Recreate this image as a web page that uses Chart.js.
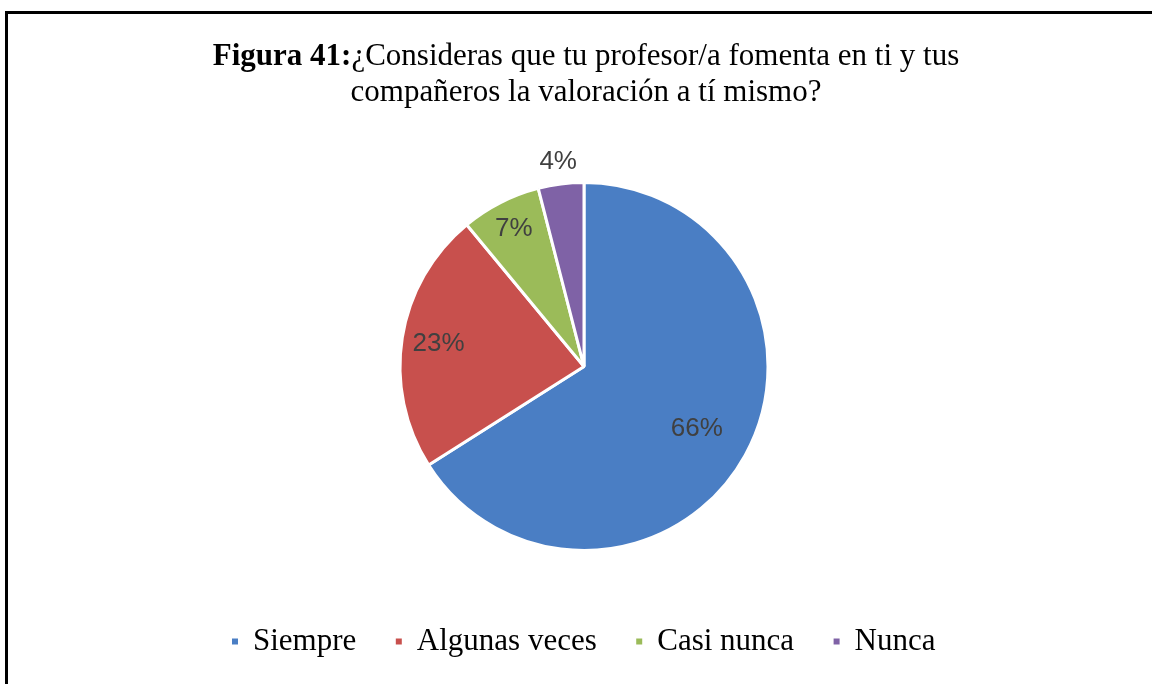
<!DOCTYPE html>
<html>
<head>
<meta charset="utf-8">
<script src="https://cdn.jsdelivr.net/npm/chart.js@4.4.0/dist/chart.umd.min.js"></script>
<style>
    html, body { margin: 0; padding: 0; background: #fff; }
    #wrap {
        position: absolute; left: 0; top: 0; width: 1152px; height: 684px;
    }
    #frame {
        position: absolute; left: 5px; top: 11px; width: 1160px; height: 700px;
        border-left: 3px solid #000; border-top: 3px solid #000;
        pointer-events: none;
    }
</style>
</head>
<body>
<div id="wrap">
    <canvas id="pie-chart" width="1152" height="684"></canvas>
    <div id="frame"></div>
</div>
<script>
// Chart data
const titleBold = 'Figura 41:';
const titleRest = '¿Consideras que tu profesor/a fomenta en ti y tus';
const titleLine2 = 'compañeros la valoración a tí mismo?';
const categories = ['Siempre', 'Algunas veces', 'Casi nunca', 'Nunca'];
const percentages = [66, 23, 7, 4];
const colors = ['#4a7ec4', '#c8504d', '#9bbb59', '#7f62a6'];

// how far from the centre each percent label sits (fraction of radius)
const labelRadius = [0.70, 0.80, 0.84, 1.12];

// Draws the two-line title, first part in bold
const titlePlugin = {
    id: 'mixedTitle',
    afterDraw(chart) {
        const ctx = chart.ctx;
        const cx = 586;
        ctx.save();
        ctx.fillStyle = '#000';
        ctx.textBaseline = 'alphabetic';
        ctx.font = 'bold 31px "Liberation Serif"';
        const wBold = ctx.measureText(titleBold).width;
        ctx.font = '31px "Liberation Serif"';
        const wRest = ctx.measureText(titleRest).width;
        let x = cx - (wBold + wRest) / 2;
        ctx.textAlign = 'left';
        ctx.font = 'bold 31px "Liberation Serif"';
        ctx.fillText(titleBold, x, 65);
        ctx.font = '31px "Liberation Serif"';
        ctx.fillText(titleRest, x + wBold, 65);
        ctx.textAlign = 'center';
        ctx.fillText(titleLine2, cx, 101);
        ctx.restore();
    },
};

// Percent labels on the slices
const pctPlugin = {
    id: 'pctLabels',
    afterDatasetsDraw(chart) {
        const ctx = chart.ctx;
        const meta = chart.getDatasetMeta(0);
        const total = percentages.reduce((a, b) => a + b, 0);
        ctx.save();
        ctx.font = '26px "Liberation Sans"';
        ctx.fillStyle = '#404040';
        ctx.textAlign = 'center';
        ctx.textBaseline = 'middle';
        meta.data.forEach((arc, i) => {
            const p = arc.getProps(['x', 'y', 'startAngle', 'endAngle', 'outerRadius'], true);
            const mid = (p.startAngle + p.endAngle) / 2;
            const r = p.outerRadius * labelRadius[i];
            const text = Math.round(percentages[i] / total * 100) + '%';
            ctx.fillText(text, p.x + Math.cos(mid) * r, p.y + Math.sin(mid) * r);
        });
        ctx.restore();
    },
};

new Chart(document.getElementById('pie-chart'), {
    type: 'pie',
    data: {
        labels: categories,
        datasets: [{
            data: percentages,
            backgroundColor: colors,
            borderColor: '#ffffff',
            borderWidth: 3,
            radius: 184,
        }],
    },
    options: {
        responsive: false,
        animation: false,
        layout: {
            padding: { top: 147, bottom: 17, left: 16, right: 0 },
        },
        plugins: {
            tooltip: { enabled: false },
            legend: {
                position: 'bottom',
                labels: {
                    usePointStyle: true,
                    pointStyle: 'rect',
                    boxWidth: 5,
                    boxHeight: 9,
                    padding: 40,
                    color: '#000',
                    font: { family: '"Liberation Serif"', size: 31 },
                },
            },
        },
    },
    plugins: [titlePlugin, pctPlugin],
});
</script>
</body>
</html>
